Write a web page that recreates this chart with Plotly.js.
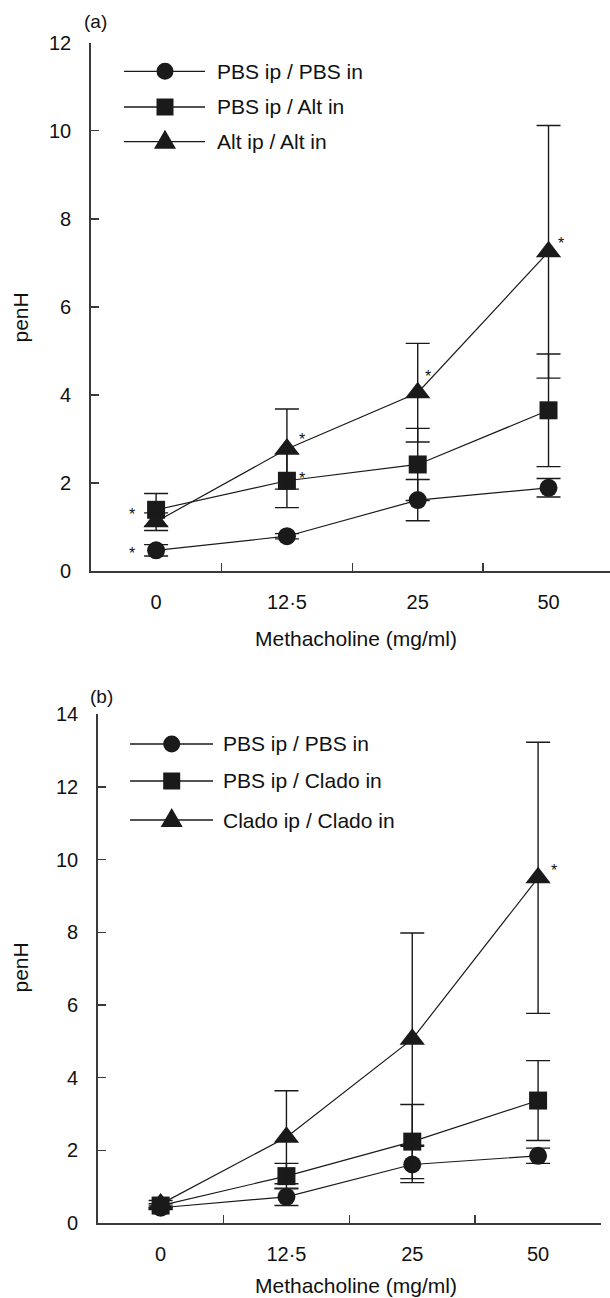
<!DOCTYPE html>
<html>
<head>
<meta charset="utf-8">
<script src="https://cdn.plot.ly/plotly-3.0.1.min.js"></script>
<style>html,body{margin:0;padding:0;background:#fff;overflow:hidden}</style>
</head>
<body>
<div id="chart" style="width:610px;height:1298px"></div>
<script>
// ---------- data ----------
var categories = ["0", "12·5", "25", "50"];

// panel (a)
var namesA = ["PBS ip / PBS in", "PBS ip / Alt in", "Alt ip / Alt in"];
var pbsA      = [0.47, 0.79, 1.61, 1.89];
var pbsAErr   = [0.13, 0.06, 0.47, 0.21];
var altInA    = [1.39, 2.05, 2.42, 3.65];
var altInAErr = [0.37, 0.61, 0.82, 1.28];
var altAltA    = [1.12, 2.77, 4.05, 7.25];
var altAltAErr = [0.20, 0.91, 1.12, 2.87];
var starsAX = ["0", "0", "12·5", "12·5", "25", "50"];
var starsAY = [1.37, 0.49, 3.07, 2.20, 4.51, 7.52];

// panel (b)
var namesB = ["PBS ip / PBS in", "PBS ip / Clado in", "Clado ip / Clado in"];
var pbsB      = [0.42, 0.72, 1.61, 1.85];
var pbsBErr   = [0.05, 0.24, 0.50, 0.21];
var cladoInB    = [0.48, 1.29, 2.24, 3.37];
var cladoInBErr = [0.05, 0.35, 1.02, 1.10];
var cladoCladoB    = [0.52, 2.36, 5.06, 9.50];
var cladoCladoBErr = [0.10, 1.28, 2.92, 3.73];
var starsBX = ["50"];
var starsBY = [9.82];

// ---------- styling ----------
var W = 610, H = 1298;
var FONT = "Liberation Sans, Arial, Helvetica, sans-serif";
var INK = "#1a1a1a";
var AXC = "#3a3a3a";
function px(x) { return x / W; }
function py(y) { return 1 - y / H; }

function series(x, y, err, sym, size, xa, ya) {
  return {
    type: "scatter", mode: "lines+markers",
    x: x, y: y, xaxis: xa, yaxis: ya,
    line: {color: INK, width: 1.2},
    marker: {symbol: sym, size: size, color: INK, line: {width: 0}},
    error_y: {type: "data", array: err, visible: true, color: INK, thickness: 1.4, width: 12},
    cliponaxis: false, showlegend: false, hoverinfo: "skip"
  };
}

var traces = [
  series(categories, pbsA, pbsAErr, "circle", 18, "x", "y"),
  series(categories, altInA, altInAErr, "square", 18, "x", "y"),
  series(categories, altAltA, altAltAErr, "triangle-up", 22, "x", "y"),
  series(categories, pbsB, pbsBErr, "circle", 18, "x2", "y2"),
  series(categories, cladoInB, cladoInBErr, "square", 18, "x2", "y2"),
  series(categories, cladoCladoB, cladoCladoBErr, "triangle-up", 22, "x2", "y2")
];

function xAxis(domain, range, anchor) {
  return {
    type: "category", domain: domain, range: range, anchor: anchor,
    categoryorder: "array", categoryarray: categories,
    tickson: "boundaries", ticks: "inside", ticklen: 8, tickwidth: 1.4, tickcolor: AXC,
    showline: true, linecolor: AXC, linewidth: 1.5,
    showgrid: false, zeroline: false, fixedrange: true, automargin: false,
    tickfont: {family: FONT, size: 20, color: "#111"},
    ticklabelstandoff: 12
  };
}
function yAxis(domain, range, anchor) {
  return {
    domain: domain, range: range, anchor: anchor, dtick: 2, tick0: 0,
    ticks: "inside", ticklen: 8, tickwidth: 1.4, tickcolor: AXC,
    showline: true, linecolor: AXC, linewidth: 1.5,
    showgrid: false, zeroline: false, fixedrange: true, automargin: false,
    tickfont: {family: FONT, size: 20, color: "#111"},
    ticklabelstandoff: 14
  };
}

var annotations = [];
function txt(x, y, t, size, extra) {
  var a = {xref: "paper", yref: "paper", x: px(x), y: py(y), text: t, showarrow: false,
    xanchor: "center", yanchor: "middle", font: {family: FONT, size: size, color: "#111"}};
  for (var k in extra) a[k] = extra[k];
  annotations.push(a);
}
// panel labels and titles
txt(95, 21, "(a)", 19);
txt(101.5, 696.5, "(b)", 19);
txt(356, 638, "Methacholine (mg/ml)", 21);
txt(356, 1285, "Methacholine (mg/ml)", 21);
txt(19.5, 318, "penH", 21, {textangle: -90});
txt(19.5, 968, "penH", 21, {textangle: -90});

// significance stars (category index positions on the category axes)
var shiftsA = [-24, -24, 15, 15, 10, 12];
for (var i = 0; i < starsAX.length; i++) {
  annotations.push({xref: "x", yref: "y", x: categories.indexOf(starsAX[i]), y: starsAY[i], text: "*", showarrow: false,
    xshift: shiftsA[i], yshift: -4, font: {family: FONT, size: 16, color: "#111"}});
}
var shiftsB = [16];
for (var j = 0; j < starsBX.length; j++) {
  annotations.push({xref: "x2", yref: "y2", x: categories.indexOf(starsBX[j]), y: starsBY[j], text: "*", showarrow: false,
    xshift: shiftsB[j], yshift: -4, font: {family: FONT, size: 16, color: "#111"}});
}

// legends drawn as layout decoration
var shapes = [];
var syms = ["circle", "square", "triangle"];
function legendRow(x0, x1, xm, y, sym, label, xt) {
  shapes.push({type: "line", xref: "paper", yref: "paper", x0: px(x0), x1: px(x1), y0: py(y), y1: py(y),
    line: {color: INK, width: 1.3}});
  var base = {xref: "paper", yref: "paper", xsizemode: "pixel", ysizemode: "pixel",
    xanchor: px(xm), yanchor: py(y), fillcolor: INK, line: {width: 0}};
  var s = Object.assign({}, base);
  if (sym === "circle") { s.type = "circle"; s.x0 = -8.5; s.x1 = 8.5; s.y0 = -8.5; s.y1 = 8.5; }
  else if (sym === "square") { s.type = "rect"; s.x0 = -8.5; s.x1 = 8.5; s.y0 = -8.5; s.y1 = 8.5; }
  else { s.type = "path"; s.path = "M-11,-7L11,-7L0,12Z"; }
  shapes.push(s);
  annotations.push({xref: "paper", yref: "paper", x: px(xt), y: py(y), text: label, showarrow: false,
    xanchor: "left", yanchor: "middle", font: {family: FONT, size: 21, color: "#111"}});
}
var rowsA = [71.3, 107, 141.7];
for (var r = 0; r < 3; r++) legendRow(124, 205, 165, rowsA[r], syms[r], namesA[r], 215);
var rowsB = [744, 781, 820];
for (var q = 0; q < 3; q++) legendRow(130, 213, 171.7, rowsB[q], syms[q], namesB[q], 221);

var layout = {
  width: W, height: H,
  margin: {l: 0, r: 0, t: 0, b: 0},
  paper_bgcolor: "#fff", plot_bgcolor: "#fff",
  showlegend: false,
  xaxis: xAxis([px(90.7), 1], [-0.5, 3.47], "y"),
  yaxis: yAxis([py(571), py(42.7)], [0, 12], "x"),
  xaxis2: xAxis([px(97.7), px(601)], [-0.5, 3.5], "y2"),
  yaxis2: yAxis([py(1223), py(714.3)], [0, 14], "x2"),
  annotations: annotations,
  shapes: shapes
};

Plotly.newPlot("chart", traces, layout, {staticPlot: true, displayModeBar: false});
</script>
</body>
</html>
